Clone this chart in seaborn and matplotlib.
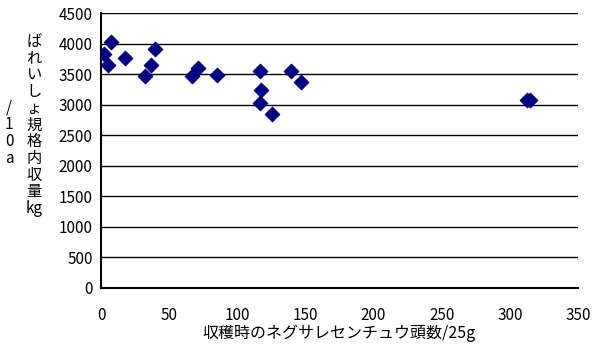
import matplotlib
matplotlib.use("Agg")
import matplotlib.pyplot as plt
import seaborn as sns
import pandas as pd

# data
nematodes = [2.4, 7.5, 5.3, 17.3, 32.0, 36.8, 39.5, 66.9, 71.1, 85.0,
             116.6, 117.5, 116.3, 125.4, 139.3, 146.9, 312.5, 314.5]
yield_kg = [3835, 4031, 3655, 3763, 3464, 3655, 3917, 3464, 3600, 3485,
            3546, 3240, 3028, 2855, 3546, 3366, 3080, 3075]
x_ticks = [0, 50, 100, 150, 200, 250, 300, 350]
y_ticks = [0, 500, 1000, 1500, 2000, 2500, 3000, 3500, 4000, 4500]
x_label = "収穫時のネグサレセンチュウ頭数/25g"
y_label_col1 = ["ば", "れ", "い", "し", "ょ", "規", "格", "内", "収", "量", "kg"]
y_label_col2 = ["/", "1", "0", "a"]

df = pd.DataFrame({"x": nematodes, "y": yield_kg})

sns.set_theme(style="white")
plt.rcParams["font.family"] = ["Noto Sans CJK JP", "DejaVu Sans"]

W, H = 595, 355
fig = plt.figure(figsize=(W / 100, H / 100), dpi=100)
ax = fig.add_axes([101 / W, 1 - 288 / H, (578 - 101) / W, (288 - 13) / H])

sns.scatterplot(data=df, x="x", y="y", ax=ax, marker="D", s=55,
                color="#000080", edgecolor="#000080", linewidth=0.8, zorder=3)

ax.set_xlim(0, 350)
ax.set_ylim(0, 4500)
ax.set_xticks(x_ticks)
ax.set_yticks(y_ticks)
ax.set_xticklabels([str(v) for v in x_ticks])
ax.set_yticklabels([str(v) for v in y_ticks])
ax.yaxis.grid(True, color="black", linewidth=1.0)
ax.xaxis.grid(False)
ax.set_axisbelow(True)
for s in ["top", "right"]:
    ax.spines[s].set_visible(False)
for s in ["left", "bottom"]:
    ax.spines[s].set_color("black")
    ax.spines[s].set_linewidth(1.5)
ax.tick_params(axis="both", direction="in", length=4, width=1.2, color="black",
               labelsize=11, labelcolor="black")
ax.tick_params(axis="x", pad=14)
ax.tick_params(axis="y", pad=6)
ax.set_xlabel(x_label, fontsize=11.5, color="black", labelpad=0)
ax.set_ylabel("")

# vertical y-axis label, one character per line
fig.text(34 / W, 1 - 125 / H, "\n".join(y_label_col1), ha="center", va="center",
         ma="center", fontsize=11, linespacing=0.98, color="black")
fig.text(9 / W, 1 - 133 / H, "\n".join(y_label_col2), ha="center", va="center",
         ma="center", fontsize=11, linespacing=0.98, color="black")

fig.savefig("out.png", dpi=100, facecolor="white")
